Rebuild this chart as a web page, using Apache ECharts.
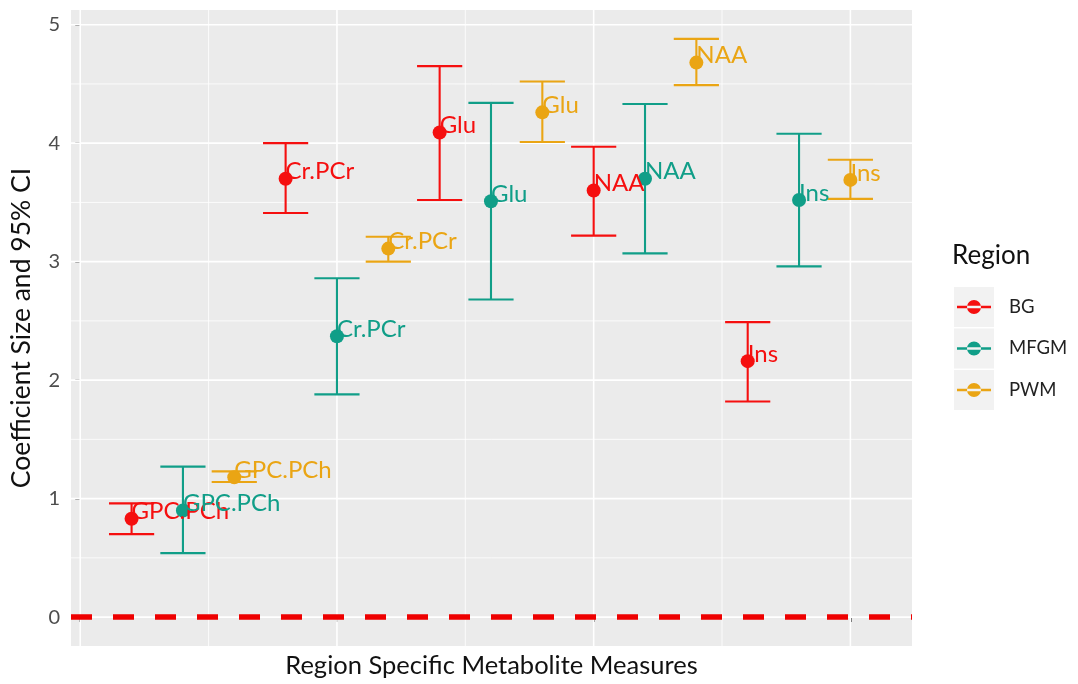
<!DOCTYPE html>
<html>
<head>
<meta charset="utf-8">
<script src="https://cdn.jsdelivr.net/npm/echarts@6/dist/echarts.min.js"></script>
<style>
html,body{margin:0;padding:0;background:#fff;}
#chart{width:1078px;height:684px;}
</style>
</head>
<body>
<div id="chart"></div>
<script>
// ---- data ----
var metabolites = ['GPC.PCh', 'Cr.PCr', 'Glu', 'NAA', 'Ins'];
var regions = ['BG', 'MFGM', 'PWM'];
var bgEst  = [0.83, 3.70, 4.09, 3.60, 2.16];
var bgLo   = [0.70, 3.41, 3.52, 3.22, 1.82];
var bgHi   = [0.96, 4.00, 4.65, 3.97, 2.49];
var mfgmEst = [0.90, 2.37, 3.51, 3.70, 3.52];
var mfgmLo  = [0.54, 1.88, 2.68, 3.07, 2.96];
var mfgmHi  = [1.27, 2.86, 4.34, 4.33, 4.08];
var pwmEst = [1.18, 3.11, 4.26, 4.68, 3.69];
var pwmLo  = [1.14, 3.00, 4.01, 4.49, 3.53];
var pwmHi  = [1.23, 3.21, 4.52, 4.88, 3.86];
var yTicks = [0, 1, 2, 3, 4, 5];
var yMinor = [0.5, 1.5, 2.5, 3.5, 4.5];
var xTicks = [0, 5, 10, 15];
var xMinor = [2.5, 7.5, 12.5];
var refLine = 0;

var colors = {BG: '#f50f0f', MFGM: '#109e88', PWM: '#eaa514'};
var FONT = 'Lato';
var est = {BG: bgEst, MFGM: mfgmEst, PWM: pwmEst};
var lo = {BG: bgLo, MFGM: mfgmLo, PWM: pwmLo};
var hi = {BG: bgHi, MFGM: mfgmHi, PWM: pwmHi};

function xOf(mi, ri) { return mi * regions.length + ri + 1; }

var gridLines = [];
xTicks.forEach(function (v) { gridLines.push({dir: 'x', v: v, w: 1.6}); });
xMinor.forEach(function (v) { gridLines.push({dir: 'x', v: v, w: 0.8}); });
yTicks.forEach(function (v) { gridLines.push({dir: 'y', v: v, w: 1.6}); });
yMinor.forEach(function (v) { gridLines.push({dir: 'y', v: v, w: 0.8}); });

var series = [];
series.push({
  type: 'custom', name: '_grid', silent: true, z: 1,
  data: gridLines.map(function (g, i) { return [i]; }),
  renderItem: function (params, api) {
    var g = gridLines[params.dataIndex];
    var cs = params.coordSys;
    var shape;
    if (g.dir === 'x') {
      var px = api.coord([g.v, 0])[0];
      shape = {x1: px, y1: cs.y, x2: px, y2: cs.y + cs.height};
    } else {
      var py = api.coord([0, g.v])[1];
      shape = {x1: cs.x, y1: py, x2: cs.x + cs.width, y2: py};
    }
    return {type: 'line', shape: shape, style: {stroke: '#ffffff', lineWidth: g.w}};
  }
});

regions.forEach(function (r, ri) {
  var s = {
    type: 'scatter', name: r, z: 4,
    symbol: 'circle', symbolSize: 14,
    itemStyle: {color: colors[r], opacity: 1},
    data: metabolites.map(function (m, mi) { return {value: [xOf(mi, ri), est[r][mi]], label: m}; }),
    label: {
      show: true, position: [7, 0], align: 'left', verticalAlign: 'middle',
      formatter: function (p) { return p.data.label; },
      color: colors[r], fontFamily: FONT, fontSize: 24
    },
    emphasis: {disabled: true}
  };
  if (ri === 0) {
    s.markLine = {
      silent: true, symbol: ['none', 'none'], label: {show: false},
      lineStyle: {color: '#ee0000', width: 5.5, type: [21, 21], opacity: 1},
      data: [{yAxis: refLine}]
    };
  }
  series.push(s);
});

regions.forEach(function (r, ri) {
  var ebData = metabolites.map(function (m, mi) { return [xOf(mi, ri), lo[r][mi], hi[r][mi]]; });
  series.push({
    type: 'custom', name: r, z: 3, silent: true,
    itemStyle: {color: colors[r]},
    data: ebData,
    encode: {x: 0, y: [1, 2]},
    renderItem: function (params, api) {
      var x = api.value(0), l = api.value(1), h = api.value(2);
      var hw = 0.44;
      var pl = api.coord([x, l]), ph = api.coord([x, h]);
      var pll = api.coord([x - hw, l]), plr = api.coord([x + hw, l]);
      var phl = api.coord([x - hw, h]), phr = api.coord([x + hw, h]);
      var st = {stroke: colors[r], lineWidth: 2.1};
      return {type: 'group', children: [
        {type: 'line', shape: {x1: pl[0], y1: pl[1], x2: ph[0], y2: ph[1]}, style: st},
        {type: 'line', shape: {x1: pll[0], y1: pll[1], x2: plr[0], y2: plr[1]}, style: st},
        {type: 'line', shape: {x1: phl[0], y1: phl[1], x2: phr[0], y2: phr[1]}, style: st}
      ]};
    }
  });
});

var chart = echarts.init(document.getElementById('chart'), null, {renderer: 'canvas'});
chart.setOption({
  animation: false,
  backgroundColor: '#ffffff',
  color: [colors.BG, colors.MFGM, colors.PWM],
  grid: {left: 70, top: 10, right: 166, bottom: 37, show: true, backgroundColor: '#ebebeb', borderWidth: 0},
  xAxis: {
    type: 'value', min: -0.18, max: 16.2,
    name: 'Region Specific Metabolite Measures', nameLocation: 'middle', nameGap: 7,
    nameTextStyle: {fontFamily: FONT, fontSize: 25.5, color: '#111', verticalAlign: 'top'},
    axisLine: {show: false},
    axisTick: {show: true, customValues: xTicks, length: 5, lineStyle: {color: '#333', width: 1.5}},
    axisLabel: {show: false},
    splitLine: {show: false}
  },
  yAxis: {
    type: 'value', min: -0.244, max: 5.124,
    name: 'Coefficient Size and 95% CI', nameLocation: 'middle', nameGap: 36,
    nameTextStyle: {fontFamily: FONT, fontSize: 26.5, color: '#111'},
    axisLine: {show: false},
    axisTick: {show: true, customValues: yTicks, length: 5, lineStyle: {color: '#333', width: 1.5}},
    axisLabel: {show: true, customValues: yTicks, fontFamily: FONT, fontSize: 20, color: '#4d4d4d', margin: 11},
    splitLine: {show: false}
  },
  legend: {
    orient: 'vertical', left: 957, top: 297, padding: 0, itemGap: 21.5,
    itemWidth: 34, itemHeight: 14,
    icon: 'path://M0,5.8H34V8.2H0Z M10,7A7,7 0 1,0 24,7A7,7 0 1,0 10,7Z',
    data: regions.map(function (r) { return {name: r, itemStyle: {color: colors[r]}}; }),
    selectedMode: false,
    textStyle: {fontFamily: FONT, fontSize: 18.5, color: '#222', lineHeight: 20, padding: [0, 0, 0, 13]}
  },
  graphic: [
    {type: 'rect', left: 954, top: 287, shape: {width: 40, height: 40}, style: {fill: '#f2f2f2'}, z: -1},
    {type: 'rect', left: 954, top: 328.5, shape: {width: 40, height: 40}, style: {fill: '#f2f2f2'}, z: -1},
    {type: 'rect', left: 954, top: 370, shape: {width: 40, height: 40}, style: {fill: '#f2f2f2'}, z: -1},
    {type: 'text', left: 952, top: 243, style: {text: 'Region', fontFamily: FONT, fontSize: 26, fill: '#111'}}
  ],
  series: series
});
</script>
</body>
</html>
